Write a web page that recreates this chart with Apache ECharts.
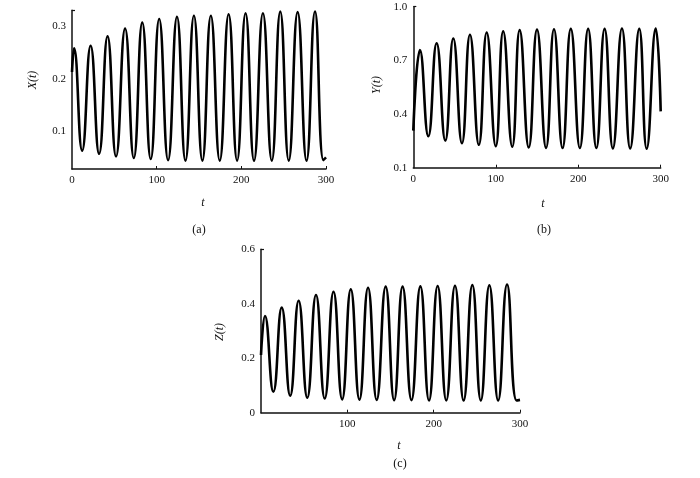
<!DOCTYPE html>
<html>
<head>
<meta charset="utf-8">
<script src="https://cdn.jsdelivr.net/npm/echarts@6/dist/echarts.min.js"></script>
<style>
html,body{margin:0;padding:0;background:#fff;}
#c{width:700px;height:478px;}
</style>
</head>
<body>
<div id="c"></div>
<script>
// Panel (a): X(t)
var tA = [0, 2.4, 12, 22, 32, 42, 52, 62.7, 73, 83, 93, 103, 113.5, 124, 134, 144, 154, 164, 174.5, 185, 195, 205, 215, 225.5, 236, 246, 256, 266.5, 277, 287, 297, 300];
var xA = [0.213, 0.258, 0.063, 0.263, 0.057, 0.281, 0.052, 0.2955, 0.049, 0.307, 0.047, 0.314, 0.045, 0.318, 0.044, 0.320, 0.044, 0.320, 0.044, 0.323, 0.044, 0.325, 0.044, 0.325, 0.044, 0.328, 0.044, 0.327, 0.044, 0.328, 0.045, 0.050];
// Panel (b): Y(t)
var tB = [0, 8.1, 18.2, 28.3, 38.8, 48.5, 59, 68.7, 79.5, 89, 100, 109, 120, 129, 140, 150, 161, 170.6, 181, 191, 202, 212, 222, 232, 242, 253, 263, 274, 283, 294, 300];
var yB = [0.307, 0.757, 0.276, 0.796, 0.252, 0.822, 0.237, 0.843, 0.228, 0.856, 0.220, 0.863, 0.217, 0.869, 0.213, 0.872, 0.211, 0.874, 0.210, 0.876, 0.210, 0.876, 0.210, 0.876, 0.208, 0.878, 0.208, 0.876, 0.206, 0.878, 0.415];
// Panel (c): Z(t)
var tC = [0, 4.6, 14.3, 24, 33.8, 43.6, 53.6, 63.7, 73.8, 84, 94, 104, 114, 124, 134, 144.4, 154.2, 164, 174.3, 184.6, 194.6, 204.6, 214.6, 224.7, 234.7, 244.8, 254.6, 264.5, 274.7, 285, 296, 300];
var zC = [0.212, 0.355, 0.077, 0.386, 0.062, 0.411, 0.055, 0.432, 0.052, 0.444, 0.049, 0.453, 0.048, 0.459, 0.047, 0.463, 0.046, 0.463, 0.046, 0.464, 0.045, 0.465, 0.045, 0.466, 0.045, 0.469, 0.045, 0.468, 0.045, 0.471, 0.045, 0.047];

// tick labels
var xTicksA = [0, 100, 200, 300];
var yTicksA = [0.1, 0.2, 0.3];
var xTicksB = [0, 100, 200, 300];
var yTicksB = [0.1, 0.4, 0.7, 1.0];
var xTicksC = [100, 200, 300];
var yTicksC = [0, 0.2, 0.4, 0.6];

function pairs(t, v) { return t.map(function (x, i) { return [x, v[i]]; }); }

var FONT = '"Liberation Serif", "DejaVu Serif", serif';
var INK = '#111';

function xAx(idx, labels) {
  return {
    type: 'value', gridIndex: idx, min: 0, max: 300,
    axisLine: { show: true, lineStyle: { color: INK, width: 1.5 } },
    axisTick: { show: true, inside: true, length: 3, customValues: [100, 200, 300], lineStyle: { color: INK, width: 1 } },
    axisLabel: { customValues: labels, color: INK, fontFamily: FONT, fontSize: 11, margin: 6,
      formatter: function (v) { return String(v); } },
    splitLine: { show: false }
  };
}
function yAx(idx, min, max, labels, dec) {
  return {
    type: 'value', gridIndex: idx, min: min, max: max,
    axisLine: { show: true, lineStyle: { color: INK, width: 1.5 } },
    axisTick: { show: true, inside: true, length: 3, customValues: [max], lineStyle: { color: INK, width: 1.2 } },
    axisLabel: { customValues: labels, color: INK, fontFamily: FONT, fontSize: 11, margin: 6,
      formatter: function (v) { return v === 0 ? '0' : v.toFixed(dec); } },
    splitLine: { show: false }
  };
}
function ser(idx, t, v) {
  return {
    type: 'line', xAxisIndex: idx, yAxisIndex: idx, data: pairs(t, v),
    showSymbol: false, smooth: 0.5, clip: false,
    lineStyle: { color: '#000', width: 2.6 }
  };
}
function txt(x, y, s, rot, italic) {
  return { type: 'text', x: x, y: y, rotation: rot || 0,
    style: { text: s, fill: INK, font: (italic ? 'italic ' : '') + '12px ' + FONT, align: 'center', verticalAlign: 'middle' } };
}

var chart = echarts.init(document.getElementById('c'), null, { renderer: 'canvas' });
chart.setOption({
  animation: false,
  backgroundColor: '#fff',
  grid: [
    { left: 72, top: 10.3, width: 254, height: 158.7 },
    { left: 413.3, top: 6.7, width: 247.4, height: 161 },
    { left: 261, top: 249.3, width: 259, height: 163.4 }
  ],
  xAxis: [xAx(0, xTicksA), xAx(1, xTicksB), xAx(2, xTicksC)],
  yAxis: [yAx(0, 0.028, 0.3305, yTicksA, 1), yAx(1, 0.1, 1.0, yTicksB, 1), yAx(2, 0, 0.6, yTicksC, 1)],
  series: [ser(0, tA, xA), ser(1, tB, yB), ser(2, tC, zC)],
  graphic: [
    txt(33, 80, 'X(t)', Math.PI / 2, true),
    txt(377, 85, 'Y(t)', Math.PI / 2, true),
    txt(220, 332, 'Z(t)', Math.PI / 2, true),
    txt(203, 203, 't', 0, true),
    txt(543, 204, 't', 0, true),
    txt(399, 446, 't', 0, true),
    txt(199, 230, '(a)', 0, false),
    txt(544, 230, '(b)', 0, false),
    txt(400, 464, '(c)', 0, false)
  ]
});
</script>
</body>
</html>
